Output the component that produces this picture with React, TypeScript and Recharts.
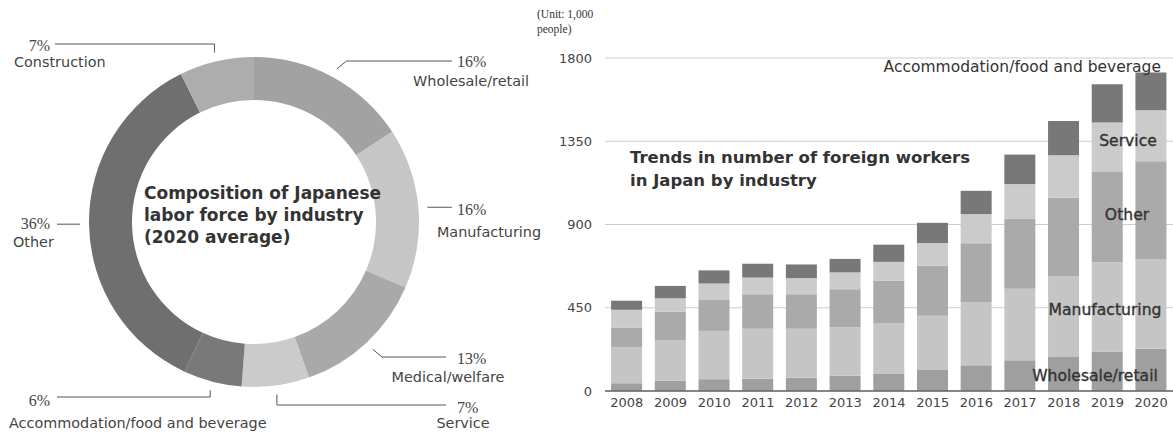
import React from 'react';
import { PieChart, Pie, Cell, BarChart, Bar, XAxis, YAxis, CartesianGrid } from 'recharts';

// ---------- Pie data (composition of Japanese labor force, 2020) ----------
const pieCategories = [
  'Wholesale/retail',
  'Manufacturing',
  'Medical/welfare',
  'Service',
  'Accommodation/food and beverage',
  'Other',
  'Construction',
];
const pieShares = [15.8, 15.7, 13.1, 6.6, 5.7, 35.8, 7.3];
const pieLabels = ['16%', '16%', '13%', '7%', '6%', '36%', '7%'];
const pieColors = ['#a2a2a2', '#c6c6c6', '#a9a9a9', '#cbcbcb', '#797979', '#6f6f6f', '#adadad'];

// ---------- Bar data (foreign workers in Japan, thousands) ----------
const years = ['2008', '2009', '2010', '2011', '2012', '2013', '2014', '2015', '2016', '2017', '2018', '2019', '2020'];
const wholesale = [42, 56, 64, 67, 71, 82, 92, 114, 139, 166, 184, 213, 229];
const manufacturing = [196, 218, 261, 269, 265, 263, 275, 293, 342, 387, 436, 483, 485];
const other = [103, 154, 170, 187, 187, 205, 229, 270, 318, 380, 424, 488, 528];
const service = [98, 73, 86, 90, 87, 91, 102, 123, 157, 185, 230, 267, 275];
const accommodation = [49, 67, 71, 75, 74, 73, 93, 109, 126, 160, 186, 207, 204];
const yTicks = [0, 450, 900, 1350, 1800];

const barColors = {
  wholesale: '#9f9f9f',
  manufacturing: '#c5c5c5',
  other: '#aaaaaa',
  service: '#cbcbcb',
  accommodation: '#787878',
};

const pieData = pieCategories.map((name, i) => ({ name, value: pieShares[i], label: pieLabels[i] }));
const barData = years.map((year, i) => ({
  year,
  wholesale: wholesale[i],
  manufacturing: manufacturing[i],
  other: other[i],
  service: service[i],
  accommodation: accommodation[i],
}));

const SANS = '"DejaVu Sans", Verdana, sans-serif';
const SERIF = '"Liberation Serif", "Times New Roman", serif';

// label layout (annotation placement)
const PIE_LABEL_LAYOUT: any[] = [
  { bend: 'diag', lineY: 61, endX: 452, pctX: 457, pctY: 61, pctAnchor: 'start', nameX: 471, nameY: 81, nameAnchor: 'middle' },
  { bend: 'none', endX: 452, pctX: 457, pctY: 209, pctAnchor: 'start', nameX: 489, nameY: 232, nameAnchor: 'middle' },
  { bend: 'diag', lineY: 357, endX: 446, pctX: 457, pctY: 358, pctAnchor: 'start', nameX: 448, nameY: 377, nameAnchor: 'middle' },
  { bend: 'vert', lineY: 405, endX: 446, pctX: 457, pctY: 407, pctAnchor: 'start', nameX: 463, nameY: 423, nameAnchor: 'middle' },
  { bend: 'vert', lineY: 397, endX: 57, pctX: 50, pctY: 400, pctAnchor: 'end', nameX: 9, nameY: 423, nameAnchor: 'start' },
  { bend: 'none', endX: 57, pctX: 50, pctY: 223, pctAnchor: 'end', nameX: 13, nameY: 242, nameAnchor: 'start' },
  { bend: 'vert', lineY: 44, endX: 55, pctX: 50, pctY: 45, pctAnchor: 'end', nameX: 14, nameY: 62, nameAnchor: 'start' },
];

const renderPieLabel = (props: any) => {
  const { cx, cy, midAngle, outerRadius, index } = props;
  const RAD = Math.PI / 180;
  const r = outerRadius + 9;
  const px = cx + r * Math.cos(-midAngle * RAD);
  const py = cy + r * Math.sin(-midAngle * RAD);
  const L = PIE_LABEL_LAYOUT[index];
  let ex = px;
  let ey = py;
  if (L.bend === 'vert') {
    ey = L.lineY;
  } else if (L.bend === 'diag') {
    ey = L.lineY;
    const dir = L.endX > px ? 1 : -1;
    ex = px + dir * Math.abs(L.lineY - py) * 1.2;
  }
  const pts = `${px},${py} ${ex},${ey} ${L.endX},${ey}`;
  const d = pieData[index];
  return (
    <g key={`lbl-${index}`}>
      <polyline points={pts} fill="none" stroke="#555" strokeWidth={1} />
      <text x={L.pctX} y={L.pctY} textAnchor={L.pctAnchor} dominantBaseline="central" fontFamily={SERIF} fontSize={16} fill="#444">
        {d.label}
      </text>
      <text x={L.nameX} y={L.nameY} textAnchor={L.nameAnchor} dominantBaseline="central" fontFamily={SANS} fontSize={14.4} fill="#444">
        {d.name}
      </text>
    </g>
  );
};

const seriesLabelStyle: any = {
  fontFamily: SANS,
  fontSize: 15.6,
  fill: '#333',
  stroke: '#333',
  strokeWidth: 0.35,
};

export default function App() {
  return (
    <div style={{ position: 'absolute', left: 0, top: 0, width: 1173, height: 432, background: '#fff', overflow: 'hidden' }}>
      <div style={{ position: 'absolute', left: 0, top: 0 }}>
        <PieChart width={560} height={432} margin={{ top: 0, right: 0, bottom: 0, left: 0 }}>
          <Pie
            data={pieData}
            dataKey="value"
            nameKey="name"
            cx={254}
            cy={222}
            innerRadius={122}
            outerRadius={165}
            startAngle={90}
            endAngle={-270}
            stroke="none"
            label={renderPieLabel}
            labelLine={false}
            isAnimationActive={false}
          >
            {pieData.map((_, i) => (
              <Cell key={i} fill={pieColors[i]} stroke="none" />
            ))}
          </Pie>
        </PieChart>
      </div>
      <div style={{ position: 'absolute', left: 540, top: 0 }}>
        <BarChart width={633} height={432} data={barData} margin={{ top: 58, right: 0, bottom: 11, left: 0 }} barCategoryGap="14%">
          <CartesianGrid vertical={false} stroke="#cdcdcd" />
          <XAxis
            dataKey="year"
            height={30}
            interval={0}
            tickLine={false}
            tickMargin={1}
            axisLine={{ stroke: '#666', strokeWidth: 1.5 }}
            tick={{ fill: '#444', fontSize: 13, fontFamily: SANS }}
          />
          <YAxis
            width={65}
            domain={[0, 1800]}
            ticks={yTicks}
            axisLine={false}
            tickLine={false}
            tickMargin={7}
            tick={{ fill: '#444', fontSize: 13, fontFamily: SANS }}
          />
          <Bar dataKey="wholesale" stackId="a" fill={barColors.wholesale} isAnimationActive={false} />
          <Bar dataKey="manufacturing" stackId="a" fill={barColors.manufacturing} isAnimationActive={false} />
          <Bar dataKey="other" stackId="a" fill={barColors.other} isAnimationActive={false} />
          <Bar dataKey="service" stackId="a" fill={barColors.service} isAnimationActive={false} />
          <Bar dataKey="accommodation" stackId="a" fill={barColors.accommodation} isAnimationActive={false} />
        </BarChart>
      </div>
      <svg width={1173} height={432} style={{ position: 'absolute', left: 0, top: 0, pointerEvents: 'none' }}>
        <text x={144} fontFamily={SANS} fontWeight="bold" fontSize={17} fill="#333">
          <tspan x={144} y={193} dominantBaseline="central">Composition of Japanese</tspan>
          <tspan x={144} y={215} dominantBaseline="central">labor force by industry</tspan>
          <tspan x={144} y={237} dominantBaseline="central">(2020 average)</tspan>
        </text>
        <text fontFamily={SERIF} fontSize={11.5} fill="#333">
          <tspan x={537} y={14} dominantBaseline="central">(Unit: 1,000</tspan>
          <tspan x={537} y={29} dominantBaseline="central">people)</tspan>
        </text>
        <text fontFamily={SANS} fontWeight="bold" fontSize={16.5} fill="#333">
          <tspan x={630} y={157} dominantBaseline="central">Trends in number of foreign workers</tspan>
          <tspan x={630} y={180} dominantBaseline="central">in Japan by industry</tspan>
        </text>
        <text x={1161} y={67} textAnchor="end" dominantBaseline="central" fontFamily={SANS} fontSize={15.5} fill="#333">
          Accommodation/food and beverage
        </text>
        <text x={1128} y={141} textAnchor="middle" dominantBaseline="central" {...seriesLabelStyle}>Service</text>
        <text x={1127} y={215} textAnchor="middle" dominantBaseline="central" {...seriesLabelStyle}>Other</text>
        <text x={1105} y={310} textAnchor="middle" dominantBaseline="central" {...seriesLabelStyle}>Manufacturing</text>
        <text x={1095} y={376} textAnchor="middle" dominantBaseline="central" {...seriesLabelStyle}>Wholesale/retail</text>
      </svg>
    </div>
  );
}
